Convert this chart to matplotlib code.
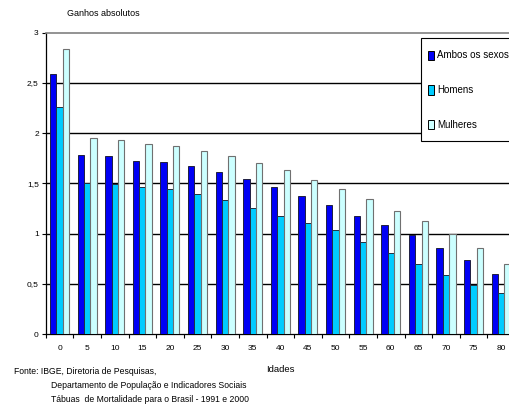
import matplotlib
matplotlib.use("Agg")
import matplotlib.pyplot as plt
import numpy as np
from matplotlib.patches import Patch, Rectangle

idades = ["0", "5", "10", "15", "20", "25", "30", "35", "40", "45", "50",
          "55", "60", "65", "70", "75", "80"]
ambos = [2.59, 1.785, 1.775, 1.725, 1.715, 1.67, 1.61, 1.54, 1.466, 1.38,
         1.284, 1.178, 1.082, 0.99, 0.857, 0.738, 0.603]
homens = [2.265, 1.506, 1.49, 1.463, 1.44, 1.394, 1.334, 1.251, 1.175, 1.105,
          1.036, 0.915, 0.81, 0.698, 0.59, 0.489, 0.41]
mulheres = [2.84, 1.957, 1.933, 1.894, 1.874, 1.824, 1.778, 1.705, 1.632, 1.536,
            1.44, 1.347, 1.228, 1.126, 0.997, 0.857, 0.70]
yticks = [0, 0.5, 1, 1.5, 2, 2.5, 3]
ytick_labels = ["0", "0,5", "1", "1,5", "2", "2,5", "3"]

FONT = "Liberation Sans"
c_ambos = "#0000F5"
c_homens = "#00CCFF"
c_mulheres = "#CCFFFF"

fig = plt.figure(figsize=(5.10, 4.07), dpi=100)
W, H = 510, 407
left_px, right_px, top_px, bot_px = 45.7, 515.0, 32.7, 334.2
ax = fig.add_axes([left_px / W, (H - bot_px) / H,
                   (right_px - left_px) / W, (bot_px - top_px) / H])

x = np.arange(len(idades))
bw = 0.23
ax.bar(x - bw, ambos, bw, color=c_ambos, edgecolor="#202040", linewidth=0.7, zorder=3)
ax.bar(x, homens, bw, color=c_homens, edgecolor="#203040", linewidth=0.7, zorder=3)
ax.bar(x + bw, mulheres, bw, color=c_mulheres, edgecolor="#707070", linewidth=0.8, zorder=3)

ax.set_xlim(-0.5, len(idades) - 0.5)
ax.set_ylim(0, 3)
ax.set_yticks(yticks)
ax.set_yticklabels(ytick_labels, fontsize=6, family=FONT)
ax.set_xticks(x)
ax.set_xticklabels(idades, fontsize=6, family=FONT)
ax.set_xticks(np.arange(len(idades) + 1) - 0.5, minor=True)
ax.tick_params(axis="x", which="major", length=0, pad=8)
ax.tick_params(axis="x", which="minor", length=3, width=0.8, direction="out")
ax.tick_params(axis="y", length=3, width=0.8, direction="out", pad=2)

for v in yticks[1:-1]:
    ax.axhline(v, color="black", linewidth=1.0, zorder=1)
ax.spines["top"].set_color("#808080")
ax.spines["top"].set_linewidth(1.2)
ax.spines["right"].set_visible(False)
ax.spines["left"].set_linewidth(0.9)
ax.spines["bottom"].set_linewidth(0.9)

# legend frame (extends past the right edge, as in the original)
frame = Rectangle((421.3 / W, 1 - 141.3 / H), 100 / W, (141.3 - 37.7) / H,
                  transform=fig.transFigure, facecolor="white",
                  edgecolor="black", linewidth=0.8, zorder=4)
fig.patches.append(frame)

handles = [Patch(facecolor=c_ambos, edgecolor="black", linewidth=0.7),
           Patch(facecolor=c_homens, edgecolor="black", linewidth=0.7),
           Patch(facecolor=c_mulheres, edgecolor="black", linewidth=0.7)]
leg = fig.legend(handles, ["Ambos os sexos", "Homens", "Mulheres"],
                 loc="upper left", bbox_to_anchor=(428.5 / W, 1 - 50.5 / H),
                 prop={"family": FONT, "size": 7}, handlelength=0.55,
                 handleheight=1.1, handletextpad=0.3, labelspacing=2.55,
                 borderpad=0, borderaxespad=0, frameon=False)
leg.set_zorder(5)

fig.text(67 / W, 1 - 14 / H, "Ganhos absolutos", fontsize=6.5, family=FONT,
         va="center", ha="left")
fig.text(280 / W, 1 - 369 / H, "Idades", fontsize=6.8, family=FONT,
         va="center", ha="center")
fig.text(14 / W, 1 - 371 / H, "Fonte: IBGE, Diretoria de Pesquisas,", fontsize=6.2,
         family=FONT, va="center", ha="left")
fig.text(51 / W, 1 - 386 / H, "Departamento de População e Indicadores Sociais",
         fontsize=6.2, family=FONT, va="center", ha="left")
fig.text(51 / W, 1 - 400 / H, "Tábuas  de Mortalidade para o Brasil - 1991 e 2000",
         fontsize=6.2, family=FONT, va="center", ha="left")

fig.savefig("out.png", dpi=100)
